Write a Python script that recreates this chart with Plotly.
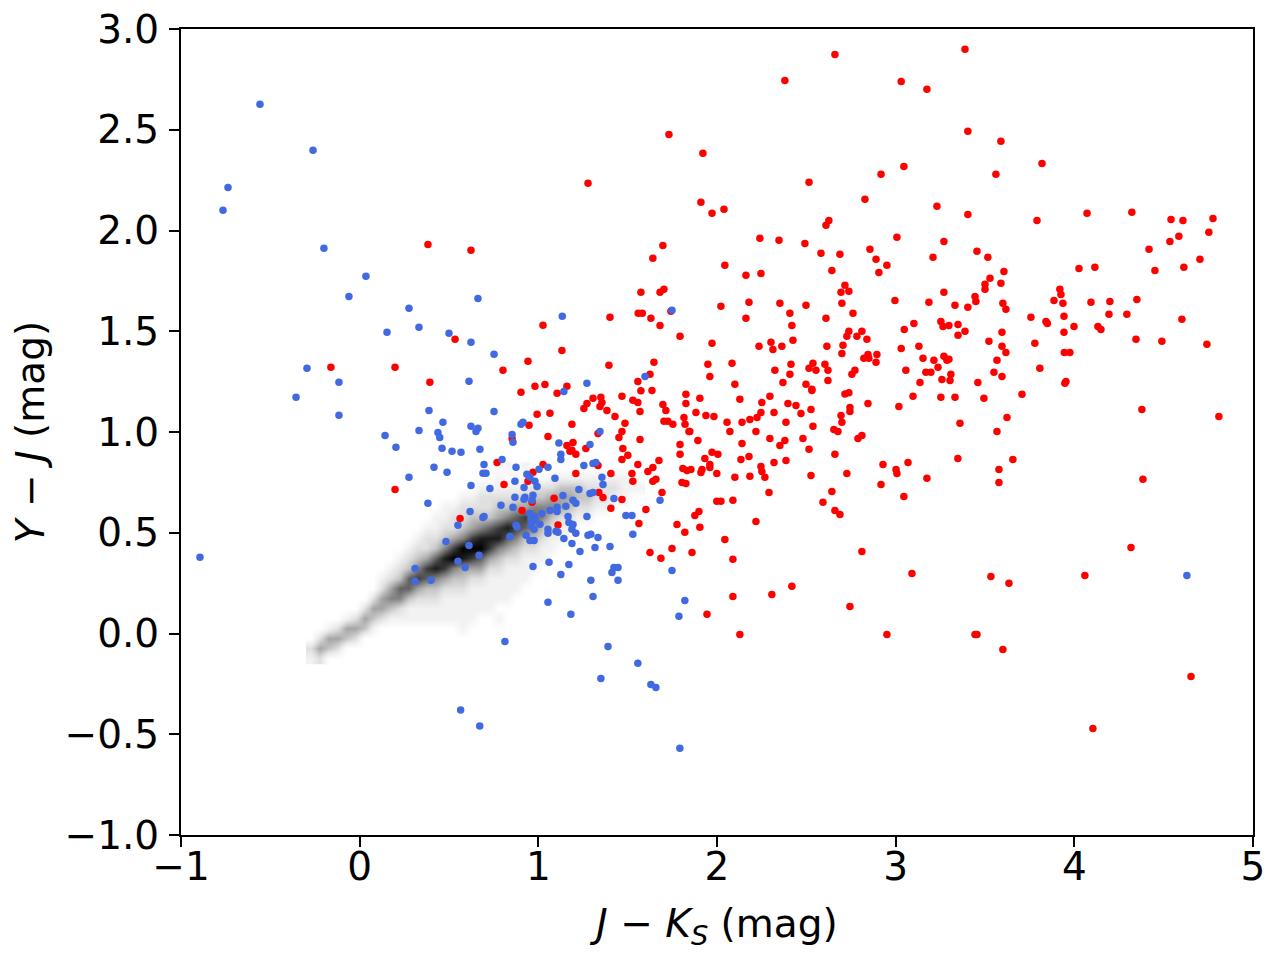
import plotly.graph_objects as go

# red sample: J-Ks and Y-J colours (mag)
red_jk = [
    2.660, 2.380, 1.731, 1.921, 1.278, 2.515, 2.918, 2.828, 1.910, 1.972,
    2.039, 2.626, 2.610, 3.007, 2.240, 2.347, 2.492, 1.697, 1.641, 2.856,
    2.582, 2.688, 2.890, 2.951, 2.044, 2.643, 2.906, 2.162, 2.246, 2.716,
    2.694, 2.738, 1.574, 1.681, 1.703, 2.996, 2.699, 2.022, 2.179, 2.352,
    2.498, 2.761, 2.408, 2.610, 2.162, 2.419, 1.559, 1.582, 1.630, 1.681,
    1.401, 1.742, 1.793, 1.972, 2.235, 2.302, 2.313, 2.363, 2.425, 2.615,
    2.727, 2.738, 2.783, 2.811, 2.839, 2.705, 2.699, 2.845, 2.822, 2.850,
    2.895, 2.890, 1.132, 1.395, 1.647, 1.625, 1.557, 1.949, 1.960, 2.084,
    2.100, 2.324, 2.369, 2.408, 2.414, 2.498, 2.515, 2.537, 2.554, 2.604,
    2.621, 2.621, 2.531, 2.755, 2.772, 1.160,
    3.388, 3.031, 3.175, 3.404, 3.589, 3.046, 3.819, 3.561, 3.231, 3.404,
    3.791, 4.071, 4.322, 4.541, 4.608, 4.776, 4.753, 4.585, 4.535, 3.270,
    3.455, 3.516, 3.209, 4.418, 4.703, 4.451, 4.613, 4.026, 4.115, 3.606,
    3.528, 3.589, 3.500, 3.500, 3.270, 3.186, 3.332, 3.444, 3.449, 3.404,
    3.600, 3.617, 3.919, 3.925, 3.886, 3.936, 4.093, 4.199, 4.350, 4.194,
    4.294, 4.602, 3.757, 3.841, 3.849, 3.942, 3.998, 4.132, 4.149, 3.942,
    4.345, 4.490, 4.742, 3.779, 3.944, 3.975, 3.807, 3.947, 3.953, 3.048,
    3.102, 3.253, 3.265, 3.298, 3.349, 3.349, 3.388, 3.595, 3.522, 3.595,
    3.617, 3.567, 3.550, 3.595, 3.460, 3.031, 3.130, 3.153, 3.214, 3.270,
    3.287, 3.298, 3.237, 3.057, 3.169, 3.197, 3.309, 3.304, 3.259, 3.136,
    1.306, 1.350, 1.356, 1.345, 1.272, 1.255, 1.468, 1.529, 1.557, 1.574,
    1.636, 1.569, 1.384, 1.429, 1.485, 1.468, 1.451, 1.569, 1.188, 1.334,
    1.194, 1.160, 1.177, 1.188, 1.210, 1.266, 1.473, 1.501, 1.468, 1.697,
    1.714, 1.703, 1.725, 1.753, 1.826, 1.826, 1.904, 1.882, 1.815, 1.821,
    1.843, 1.848, 1.938, 1.983, 1.893, 1.793, 1.793, 1.972, 2.005, 1.932,
    1.960, 1.960, 1.916, 1.910, 1.809, 1.832, 1.854, 1.999, 1.804, 1.826,
    2.056, 2.072, 2.128, 2.140, 2.184, 2.224, 2.246, 2.251, 2.296, 2.319,
    2.218, 2.140, 2.134, 2.179, 2.100, 2.184, 2.246, 2.251, 2.268, 2.319,
    2.296, 2.352, 2.380, 2.386, 2.397, 2.442, 2.470, 2.526, 2.531, 2.537,
    2.481, 2.515, 2.386, 2.526, 2.291, 2.716, 2.738, 2.744, 2.744, 2.694,
    2.699, 2.654, 2.677, 2.845, 2.789, 2.811, 2.660, 2.727, 2.643, 2.593,
    2.660, 2.688, 2.929, 2.918, 3.018, 3.002, 3.007, 1.406, 1.210, 1.524,
    1.529, 1.557, 1.613, 1.641, 1.675, 1.641, 1.658, 1.692, 1.339, 1.362,
    1.468, 1.406, 1.602, 1.563, 1.334, 1.999, 2.022, 2.089, 1.899, 1.876,
    1.904, 1.776, 1.820, 2.218, 2.044, 1.748, 1.625, 1.686, 1.860, 2.089,
    2.811, 2.419, 2.307, 2.089, 1.944, 2.744, 2.128, 2.951,
    3.097, 3.253, 3.332, 3.494, 3.707, 3.360, 3.623, 3.567, 4.378, 4.809,
    3.069, 3.348, 3.656, 3.578, 3.578, 3.175, 3.046, 4.384, 4.317, 3.091,
    3.533, 3.634, 4.059, 3.444, 3.455, 3.600, 4.653, 4.104,
    0.903, 0.981, 1.037, 1.105, 0.993, 1.065, 0.948, 1.054, 0.853, 0.769,
    1.026, 0.970, 0.942, 0.808, 1.088, 0.965, 0.909, 1.110, 0.562,
    0.382, 0.623, 1.026, 0.534, 0.802, 0.942, -0.161, 0.198, 0.393, 0.198,
]
red_yj = [
    2.874, 2.745, 2.477, 2.383, 2.234, 2.239, 2.279, 2.155, 2.140, 2.085,
    2.105, 2.050, 2.026, 1.966, 1.961, 1.951, 1.936, 1.926, 1.862, 1.907,
    1.887, 1.882, 1.857, 1.827, 1.827, 1.802, 1.792, 1.778, 1.787, 1.728,
    1.693, 1.698, 1.693, 1.693, 1.708, 1.653, 1.639, 1.624, 1.644, 1.639,
    1.629, 1.589, 1.589, 1.564, 1.564, 1.529, 1.589, 1.589, 1.564, 1.529,
    1.569, 1.599, 1.475, 1.440, 1.425, 1.445, 1.410, 1.425, 1.455, 1.425,
    1.475, 1.500, 1.475, 1.500, 1.460, 1.430, 1.390, 1.385, 1.366, 1.366,
    1.385, 1.346, 1.405, 1.331, 1.346, 1.286, 1.251, 1.336, 1.276, 1.341,
    1.237, 1.306, 1.246, 1.286, 1.336, 1.237, 1.316, 1.341, 1.306, 1.336,
    1.306, 1.256, 1.212, 1.286, 1.306, 1.227,
    2.899, 2.740, 2.701, 2.492, 2.443, 2.318, 2.333, 2.279, 2.120, 2.080,
    2.050, 2.085, 2.090, 2.055, 2.050, 2.060, 1.991, 1.971, 1.946, 1.946,
    1.897, 1.867, 1.867, 1.907, 1.857, 1.802, 1.817, 1.812, 1.817, 1.797,
    1.763, 1.738, 1.733, 1.708, 1.693, 1.644, 1.629, 1.673, 1.648, 1.619,
    1.639, 1.609, 1.708, 1.683, 1.653, 1.639, 1.644, 1.648, 1.658, 1.584,
    1.584, 1.559, 1.569, 1.549, 1.539, 1.574, 1.524, 1.524, 1.509, 1.495,
    1.460, 1.450, 1.435, 1.440, 1.395, 1.395, 1.316, 1.242, 1.251, 1.509,
    1.539, 1.549, 1.524, 1.529, 1.534, 1.480, 1.500, 1.495, 1.450, 1.425,
    1.395, 1.356, 1.296, 1.276, 1.246, 1.415, 1.425, 1.366, 1.356, 1.376,
    1.356, 1.361, 1.321, 1.306, 1.296, 1.296, 1.286, 1.256, 1.261, 1.246,
    1.167, 1.172, 1.147, 1.127, 1.142, 1.117, 1.177, 1.157, 1.147, 1.205,
    1.206, 1.102, 1.107, 1.077, 1.043, 1.003, 0.973, 0.963, 1.038, 0.993,
    0.948, 0.933, 0.904, 0.909, 0.889, 0.918, 0.918, 0.884, 0.864, 1.137,
    1.107, 1.053, 1.053, 1.038, 1.187, 1.142, 1.167, 1.097, 1.072, 1.038,
    1.003, 1.003, 1.082, 1.077, 0.958, 0.938, 0.889, 0.899, 0.889, 0.869,
    0.839, 0.824, 0.814, 0.799, 0.819, 0.809, 0.814, 0.794, 0.750, 0.745,
    1.048, 1.003, 1.162, 1.048, 1.062, 1.072, 1.097, 1.147, 1.177, 1.097,
    1.003, 0.943, 0.864, 0.879, 0.775, 0.780, 0.829, 0.804, 0.775, 0.849,
    0.968, 0.933, 0.958, 1.048, 1.142, 1.132, 1.092, 1.112, 1.206, 1.028,
    0.968, 0.914, 0.859, 0.784, 0.700, 1.188, 1.195, 1.122, 1.102, 1.082,
    1.048, 1.013, 1.003, 1.142, 0.968, 0.983, 0.889, 0.794, 0.705, 0.651,
    0.611, 0.591, 0.839, 0.740, 1.127, 0.814, 0.794, 0.794, 0.794, 0.794,
    0.755, 0.839, 0.804, 0.824, 0.859, 0.755, 0.765, 0.700, 0.700, 0.675,
    0.665, 0.621, 0.616, 0.546, 0.834, 0.656, 0.656, 0.661, 0.606, 0.586,
    0.527, 0.541, 0.502, 0.556, 0.467, 0.422, 0.402, 0.373, 0.402, 0.368,
    0.407, 0.234, 0.194, 0.184, 0.095, 0.134, -0.005, -0.005,
    1.177, 1.172, 1.172, 1.167, 1.187, 1.043, 1.072, 1.003, 1.112, 1.077,
    0.849, 0.869, 0.864, 0.814, 0.750, 0.770, 0.680, 0.765, 0.427, 0.298,
    0.283, 0.249, 0.288, -0.005, -0.005, -0.079, -0.213, -0.471,
    1.197, 1.227, 1.236, 1.192, 1.088, 1.093, 1.033, 0.978, 0.968, 0.849,
    0.839, 0.800, 0.755, 0.740, 0.671, 0.651, 0.611, 0.538, 0.571,
    1.931, 1.902, 1.530, 1.460, 1.306, 1.351, 1.321, 1.321, 1.247, 0.715,
]

# blue sample
blue_jk = [
    -0.558, -0.261, -0.737, -0.765, -0.200, 0.035, -0.060, 0.276, 0.662, 0.332,
    0.153, 0.500, 0.623, 0.752, -0.295, -0.116, 0.612,
    -0.356, -0.116, 0.388, 0.142, 0.332, 0.438, 0.203, 0.416, 0.276, 0.382,
    -0.894, 0.310, 0.310, 0.399,
    0.752, 0.466, 0.623, 0.651, 0.662, 0.903, 0.914, 0.853, 0.858, 0.448,
    0.461, 0.517, 0.567, 0.673, 0.797, 0.696, 0.875, 0.489, 0.690, 0.707,
    0.623, 0.729, 0.869, 0.936, 0.953, 1.004, 1.054, 1.093, 0.981, 0.993,
    0.920, 0.869, 0.925, 0.920, 0.970, 0.965, 0.791, 0.858, 0.618, 0.696,
    0.690, 0.550, 0.483, 0.612, 0.668, 0.550, 0.590, 0.841, 0.875, 0.881,
    0.931, 0.953, 0.976, 0.959, 0.981, 0.959, 1.009, 0.976, 1.020, 1.065,
    1.105, 1.105, 1.054, 1.054, 1.099, 1.110, 0.953, 0.976, 0.970, 1.060,
    1.054, 0.813, 1.115,
    1.134, 1.748, 1.597, 1.272,
    1.143, 1.345, 1.289, 1.126, 1.126, 1.255, 1.306, 1.322, 1.356, 1.362,
    1.227, 1.138, 1.289, 1.306, 1.194, 1.210, 1.154, 1.423, 1.681, 1.272,
    1.166, 1.171, 1.194, 1.188, 1.210, 1.490, 1.524, 1.529, 1.143, 1.278,
    1.294, 1.334, 1.188, 1.317, 1.401, 1.233, 1.171, 1.126, 1.423, 1.446,
    1.412, 1.294, 1.446, 1.748, 1.306, 1.820, 1.182, 1.787, 1.390, 1.557,
    1.350, 1.630, 1.658, 1.792,
    0.565, 0.672, 4.630,
]
blue_yj = [
    2.626, 2.398, 2.214, 2.100, 1.912, 1.773, 1.673, 1.614, 1.663, 1.520,
    1.495, 1.490, 1.445, 1.386, 1.316, 1.247, 1.252,
    1.172, 1.083, 1.107, 0.983, 1.008, 0.998, 0.924, 0.825, 0.775, 0.646,
    0.378, 0.323, 0.259, 0.264,
    1.102, 1.048, 1.028, 1.003, 1.018, 1.038, 1.048, 0.988, 0.949, 0.973,
    0.919, 0.904, 0.899, 0.914, 0.864, 0.839, 0.825, 0.800, 0.795, 0.795,
    0.735, 0.720, 0.755, 0.790, 0.775, 0.815, 0.825, 0.770, 0.755, 0.730,
    0.725, 0.676, 0.676, 0.666, 0.686, 0.661, 0.636, 0.626, 0.606, 0.581,
    0.576, 0.537, 0.457, 0.437, 0.388, 0.358, 0.328, 0.482, 0.537, 0.527,
    0.487, 0.596, 0.581, 0.567, 0.562, 0.537, 0.542, 0.517, 0.596, 0.611,
    0.626, 0.606, 0.517, 0.497, 0.507, 0.502, 0.462, 0.462, 0.333, 0.353,
    0.155, -0.040, 0.945,
    1.574, 1.604, 1.276, 1.242,
    1.201, 1.003, 0.938, 0.889, 0.864, 0.834, 0.844, 0.849, 0.775, 0.740,
    0.715, 0.685, 0.695, 0.700, 0.661, 0.646, 0.631, 0.670, 0.661, 0.581,
    0.581, 0.551, 0.541, 0.517, 0.497, 0.586, 0.586, 0.492, 0.472, 0.487,
    0.492, 0.477, 0.447, 0.427, 0.432, 0.407, 0.343, 0.293, 0.328, 0.328,
    0.303, 0.264, 0.264, 0.313, 0.184, 0.164, 0.095, 0.085, -0.064, -0.148,
    -0.223, -0.253, -0.268, -0.570,
    -0.380, -0.459, 0.288,
]

# background density of field stars (0 = none, 9 = darkest)
# rows from y = -0.15 (bottom) upward in 0.05 mag steps, columns from x = -0.30 in 0.05 mag steps
density_rows = [
    "12000000000000000000000000000000000000",
    "24320000000000000000000000000000000000",
    "02443200000000000000000000000000000000",
    "00124431000000000100000000000000000000",
    "00001243211111111110010000000000000000",
    "00000024432111111111100000000000000000",
    "00000002455322211111111000000000000000",
    "00000000246643322211111100000000000000",
    "00000000123676543322111110000000000000",
    "00000000012357875444221111000000000000",
    "00000000001234689876432211100000000000",
    "00000000000122357999754322110000000000",
    "00000000000012234578886533211000000000",
    "00000000000001122345678765321100000000",
    "00000000000000112233345676532211000000",
    "00000000000000011222233445554322110000",
    "00000000000000000112222233344433221100",
    "00000000000000000001111112223332222111",
    "00000000000000000000010100011111111100",
    "00000000000000000000001010000000000000",
]
density = [[int(c) for c in row] for row in density_rows]

grey_scale = [
    [0.0, "rgb(255,255,255)"],
    [1 / 9, "rgb(242,242,242)"],
    [2 / 9, "rgb(224,224,224)"],
    [3 / 9, "rgb(196,196,196)"],
    [4 / 9, "rgb(165,165,165)"],
    [5 / 9, "rgb(132,132,132)"],
    [6 / 9, "rgb(98,98,98)"],
    [7 / 9, "rgb(60,60,60)"],
    [8 / 9, "rgb(28,28,28)"],
    [1.0, "rgb(0,0,0)"],
]

font_family = "DejaVu Sans"
font_size = 39

fig = go.Figure()

fig.add_trace(go.Heatmap(
    z=density,
    x0=-0.275, dx=0.05,
    y0=-0.125, dy=0.05,
    zmin=0, zmax=9,
    zsmooth="best",
    colorscale=grey_scale,
    showscale=False,
    hoverinfo="skip",
))

fig.add_trace(go.Scatter(
    x=red_jk, y=red_yj,
    mode="markers",
    marker=dict(color="#ff0000", size=7.5, line=dict(width=0)),
    showlegend=False,
))

fig.add_trace(go.Scatter(
    x=blue_jk, y=blue_yj,
    mode="markers",
    marker=dict(color="#4169e1", size=7.5, line=dict(width=0)),
    showlegend=False,
))

axis_style = dict(
    showline=True,
    linewidth=2,
    linecolor="black",
    mirror=True,
    ticks="outside",
    ticklen=10,
    tickwidth=2,
    tickcolor="black",
    ticklabeloverflow="allow",
    automargin=False,
    showgrid=False,
    zeroline=False,
    tickfont=dict(family=font_family, size=font_size, color="black"),
)

fig.update_xaxes(
    range=[-1, 5],
    tick0=0, dtick=1,
    ticklabelstandoff=-14,
    title=dict(text="<i>J</i> − <i>K<sub>S</sub></i> (mag)",
               font=dict(family=font_family, size=font_size, color="black"),
               standoff=22),
    **axis_style
)
fig.update_yaxes(
    range=[-1, 3],
    tick0=0, dtick=0.5,
    tickformat=".1f",
    ticklabelstandoff=2,
    title=dict(text="<i>Y</i> − <i>J</i> (mag)",
               font=dict(family=font_family, size=font_size, color="black"),
               standoff=18),
    **axis_style
)

# the page adds an 8 px body margin, so the figure is made 8 px smaller
fig.update_layout(
    width=1272,
    height=952,
    margin=dict(l=173, r=27, t=21, b=125),
    paper_bgcolor="white",
    plot_bgcolor="white",
    font=dict(family=font_family, color="black"),
)

fig.write_html("out.html")
